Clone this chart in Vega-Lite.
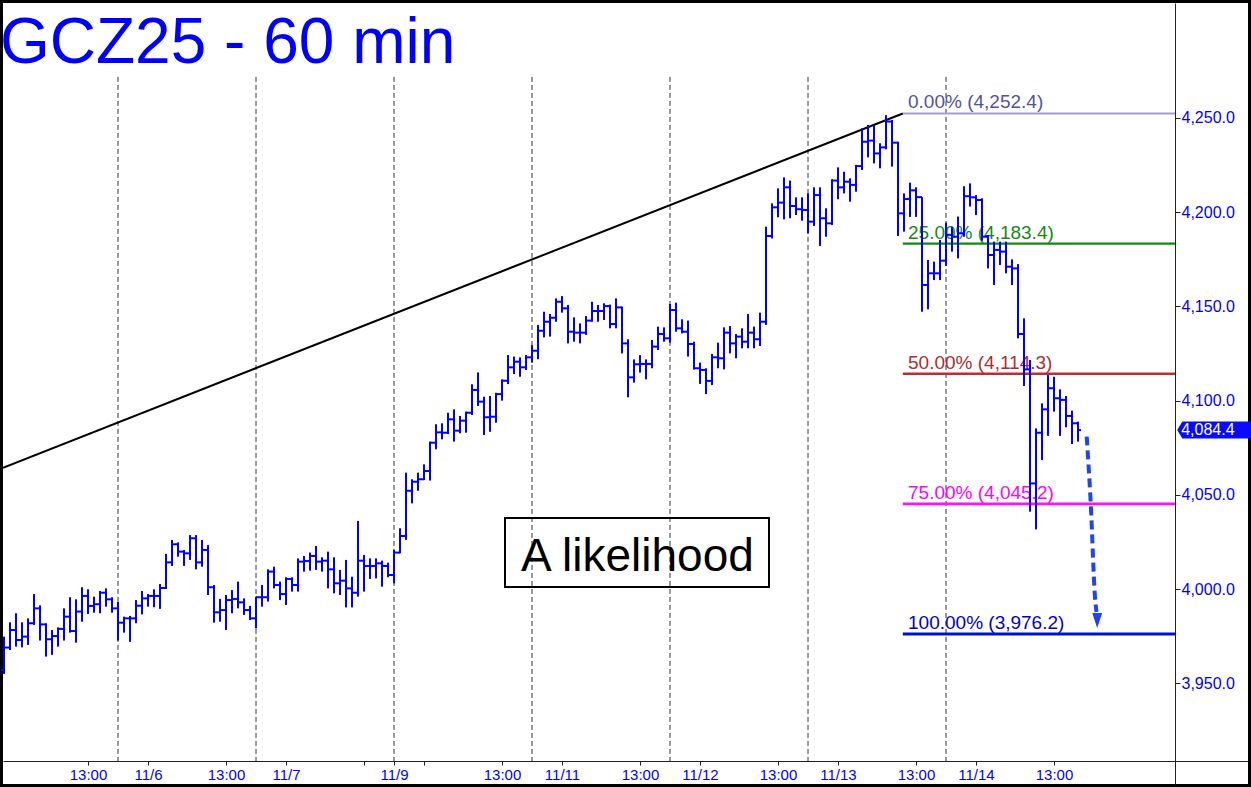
{
"$schema": "https://vega.github.io/schema/vega-lite/v6.json",
"width": 1245, "height": 781, "padding": 3, "autosize": {"type": "none"},
"background": "black",
"config": {"view": {"stroke": null, "fill": "white"}, "font": "Liberation Sans"},
"datasets": {
"bars": [
{"t":0,"o":3957.1,"h":3974.8,"l":3955.0,"c":3969.0},
{"t":1,"o":3969.0,"h":3982.4,"l":3967.7,"c":3978.3},
{"t":2,"o":3978.3,"h":3987.2,"l":3969.5,"c":3973.0},
{"t":3,"o":3973.0,"h":3982.4,"l":3969.1,"c":3974.8},
{"t":4,"o":3974.8,"h":3984.5,"l":3970.4,"c":3981.9},
{"t":5,"o":3981.9,"h":3997.4,"l":3981.0,"c":3989.8},
{"t":6,"o":3989.8,"h":3991.4,"l":3972.7,"c":3981.3},
{"t":7,"o":3981.3,"h":3981.9,"l":3964.2,"c":3973.4},
{"t":8,"o":3973.4,"h":3978.3,"l":3965.1,"c":3975.1},
{"t":9,"o":3975.1,"h":3979.7,"l":3969.5,"c":3978.9},
{"t":10,"o":3978.9,"h":3989.8,"l":3972.7,"c":3985.4},
{"t":11,"o":3985.4,"h":3995.7,"l":3976.9,"c":3977.8},
{"t":12,"o":3977.8,"h":3994.6,"l":3971.6,"c":3988.1},
{"t":13,"o":3988.1,"h":4001.0,"l":3982.7,"c":3996.4},
{"t":14,"o":3996.4,"h":3999.9,"l":3986.8,"c":3991.1},
{"t":15,"o":3991.1,"h":3996.0,"l":3987.5,"c":3992.0},
{"t":16,"o":3992.0,"h":3999.0,"l":3987.2,"c":3998.1},
{"t":17,"o":3998.1,"h":4000.4,"l":3990.7,"c":3994.6},
{"t":18,"o":3994.6,"h":3995.7,"l":3987.5,"c":3989.8},
{"t":19,"o":3989.8,"h":3993.2,"l":3972.7,"c":3982.2},
{"t":20,"o":3982.2,"h":3985.4,"l":3976.9,"c":3984.5},
{"t":21,"o":3984.5,"h":3985.8,"l":3972.0,"c":3984.5},
{"t":22,"o":3984.5,"h":3994.2,"l":3981.9,"c":3991.2},
{"t":23,"o":3991.2,"h":3999.0,"l":3986.6,"c":3995.1},
{"t":24,"o":3995.1,"h":3997.4,"l":3990.7,"c":3996.4},
{"t":25,"o":3996.4,"h":3999.9,"l":3990.4,"c":3996.4},
{"t":26,"o":3996.4,"h":4002.7,"l":3989.5,"c":4000.6},
{"t":27,"o":4000.6,"h":4018.7,"l":4000.1,"c":4014.2},
{"t":28,"o":4014.2,"h":4026.1,"l":4012.3,"c":4023.8},
{"t":29,"o":4023.8,"h":4024.8,"l":4017.2,"c":4019.9},
{"t":30,"o":4019.9,"h":4020.8,"l":4012.3,"c":4019.0},
{"t":31,"o":4019.0,"h":4028.7,"l":4015.5,"c":4027.0},
{"t":32,"o":4027.0,"h":4028.7,"l":4010.5,"c":4014.2},
{"t":33,"o":4014.2,"h":4026.1,"l":4011.9,"c":4020.8},
{"t":34,"o":4020.8,"h":4023.4,"l":3996.9,"c":4001.0},
{"t":35,"o":4001.0,"h":4002.2,"l":3982.2,"c":3987.7},
{"t":36,"o":3987.7,"h":3994.8,"l":3982.7,"c":3988.9},
{"t":37,"o":3988.9,"h":3996.9,"l":3978.3,"c":3994.2},
{"t":38,"o":3994.2,"h":3999.5,"l":3987.2,"c":3994.8},
{"t":39,"o":3994.8,"h":4004.0,"l":3989.8,"c":3993.0},
{"t":40,"o":3993.0,"h":3995.1,"l":3986.3,"c":3988.9},
{"t":41,"o":3988.9,"h":3991.1,"l":3983.6,"c":3984.5},
{"t":42,"o":3984.5,"h":3996.0,"l":3979.2,"c":3995.7},
{"t":43,"o":3995.7,"h":4002.2,"l":3990.7,"c":3995.7},
{"t":44,"o":3995.7,"h":4010.5,"l":3993.4,"c":4009.3},
{"t":45,"o":4009.3,"h":4011.9,"l":4000.4,"c":4002.2},
{"t":46,"o":4002.2,"h":4004.0,"l":3994.2,"c":3997.4},
{"t":47,"o":3997.4,"h":4006.3,"l":3991.6,"c":4005.4},
{"t":48,"o":4005.4,"h":4006.3,"l":3998.7,"c":4002.2},
{"t":49,"o":4002.2,"h":4016.3,"l":3998.7,"c":4014.6},
{"t":50,"o":4014.6,"h":4017.6,"l":4009.3,"c":4014.9},
{"t":51,"o":4014.9,"h":4019.4,"l":4009.8,"c":4017.6},
{"t":52,"o":4017.6,"h":4022.9,"l":4010.2,"c":4014.6},
{"t":53,"o":4014.6,"h":4016.9,"l":4009.3,"c":4015.1},
{"t":54,"o":4015.1,"h":4019.9,"l":4000.4,"c":4010.5},
{"t":55,"o":4010.5,"h":4016.9,"l":3997.8,"c":4003.1},
{"t":56,"o":4003.1,"h":4010.2,"l":3996.9,"c":4004.5},
{"t":57,"o":4004.5,"h":4015.5,"l":3990.3,"c":4000.4},
{"t":58,"o":4000.4,"h":4006.6,"l":3990.3,"c":3998.1},
{"t":59,"o":3998.1,"h":4036.2,"l":3996.0,"c":4015.1},
{"t":60,"o":4015.1,"h":4018.1,"l":3998.7,"c":4012.3},
{"t":61,"o":4012.3,"h":4016.3,"l":4005.4,"c":4012.3},
{"t":62,"o":4012.3,"h":4016.3,"l":4005.7,"c":4013.7},
{"t":63,"o":4013.7,"h":4015.1,"l":4001.3,"c":4012.3},
{"t":64,"o":4012.3,"h":4014.0,"l":4006.3,"c":4007.5},
{"t":65,"o":4007.5,"h":4020.8,"l":4003.1,"c":4019.4},
{"t":66,"o":4019.4,"h":4032.3,"l":4019.0,"c":4028.2},
{"t":67,"o":4028.2,"h":4061.8,"l":4026.1,"c":4052.2},
{"t":68,"o":4052.2,"h":4058.3,"l":4045.5,"c":4057.0},
{"t":69,"o":4057.0,"h":4061.8,"l":4052.2,"c":4058.3},
{"t":70,"o":4058.3,"h":4066.2,"l":4057.9,"c":4062.7},
{"t":71,"o":4062.7,"h":4078.3,"l":4057.6,"c":4077.7},
{"t":72,"o":4077.7,"h":4087.5,"l":4074.2,"c":4083.2},
{"t":73,"o":4083.2,"h":4088.0,"l":4079.5,"c":4083.0},
{"t":74,"o":4083.0,"h":4093.6,"l":4082.3,"c":4090.1},
{"t":75,"o":4090.1,"h":4095.4,"l":4078.3,"c":4084.1},
{"t":76,"o":4084.1,"h":4091.9,"l":4082.7,"c":4089.4},
{"t":77,"o":4089.4,"h":4094.2,"l":4083.0,"c":4093.6},
{"t":78,"o":4093.6,"h":4108.7,"l":4092.4,"c":4105.7},
{"t":79,"o":4105.7,"h":4115.0,"l":4097.2,"c":4099.5},
{"t":80,"o":4099.5,"h":4102.1,"l":4081.8,"c":4091.2},
{"t":81,"o":4091.2,"h":4102.5,"l":4083.5,"c":4091.5},
{"t":82,"o":4091.5,"h":4104.2,"l":4088.3,"c":4103.5},
{"t":83,"o":4103.5,"h":4111.3,"l":4100.0,"c":4110.6},
{"t":84,"o":4110.6,"h":4124.2,"l":4108.8,"c":4117.7},
{"t":85,"o":4117.7,"h":4123.4,"l":4114.1,"c":4120.7},
{"t":86,"o":4120.7,"h":4123.0,"l":4112.7,"c":4117.7},
{"t":87,"o":4117.7,"h":4124.2,"l":4116.3,"c":4123.0},
{"t":88,"o":4123.0,"h":4129.5,"l":4120.2,"c":4126.5},
{"t":89,"o":4126.5,"h":4140.2,"l":4122.0,"c":4137.1},
{"t":90,"o":4137.1,"h":4147.2,"l":4133.6,"c":4141.9},
{"t":91,"o":4141.9,"h":4146.0,"l":4134.0,"c":4144.0},
{"t":92,"o":4144.0,"h":4154.3,"l":4141.9,"c":4152.5},
{"t":93,"o":4152.5,"h":4155.5,"l":4146.7,"c":4149.0},
{"t":94,"o":4149.0,"h":4150.8,"l":4130.4,"c":4136.6},
{"t":95,"o":4136.6,"h":4144.2,"l":4131.3,"c":4136.1},
{"t":96,"o":4136.1,"h":4141.0,"l":4130.4,"c":4136.1},
{"t":97,"o":4136.1,"h":4144.9,"l":4134.9,"c":4142.5},
{"t":98,"o":4142.5,"h":4152.5,"l":4141.9,"c":4147.6},
{"t":99,"o":4147.6,"h":4150.8,"l":4141.9,"c":4147.6},
{"t":100,"o":4147.6,"h":4151.7,"l":4142.8,"c":4150.2},
{"t":101,"o":4150.2,"h":4151.0,"l":4138.4,"c":4140.7},
{"t":102,"o":4140.7,"h":4154.3,"l":4138.4,"c":4149.5},
{"t":103,"o":4149.5,"h":4149.9,"l":4125.1,"c":4130.4},
{"t":104,"o":4130.4,"h":4132.6,"l":4101.8,"c":4112.4},
{"t":105,"o":4112.4,"h":4121.9,"l":4109.6,"c":4119.3},
{"t":106,"o":4119.3,"h":4124.2,"l":4114.9,"c":4119.5},
{"t":107,"o":4119.5,"h":4121.9,"l":4111.3,"c":4119.5},
{"t":108,"o":4119.5,"h":4132.2,"l":4117.2,"c":4128.7},
{"t":109,"o":4128.7,"h":4139.3,"l":4126.9,"c":4135.4},
{"t":110,"o":4135.4,"h":4138.9,"l":4131.3,"c":4133.1},
{"t":111,"o":4133.1,"h":4151.3,"l":4130.8,"c":4148.1},
{"t":112,"o":4148.1,"h":4152.0,"l":4136.6,"c":4138.4},
{"t":113,"o":4138.4,"h":4143.2,"l":4135.7,"c":4136.6},
{"t":114,"o":4136.6,"h":4142.5,"l":4123.4,"c":4130.1},
{"t":115,"o":4130.1,"h":4131.3,"l":4116.5,"c":4117.2},
{"t":116,"o":4117.2,"h":4120.2,"l":4108.9,"c":4116.3},
{"t":117,"o":4116.3,"h":4117.2,"l":4103.5,"c":4110.5},
{"t":118,"o":4110.5,"h":4124.8,"l":4108.3,"c":4123.0},
{"t":119,"o":4123.0,"h":4130.8,"l":4117.2,"c":4122.5},
{"t":120,"o":4122.5,"h":4138.9,"l":4116.6,"c":4136.1},
{"t":121,"o":4136.1,"h":4139.6,"l":4125.1,"c":4130.4},
{"t":122,"o":4130.4,"h":4135.4,"l":4122.5,"c":4134.0},
{"t":123,"o":4134.0,"h":4138.4,"l":4127.8,"c":4131.3},
{"t":124,"o":4131.3,"h":4146.0,"l":4127.8,"c":4136.1},
{"t":125,"o":4136.1,"h":4139.3,"l":4127.8,"c":4132.6},
{"t":126,"o":4132.6,"h":4146.7,"l":4129.0,"c":4141.9},
{"t":127,"o":4141.9,"h":4192.3,"l":4140.2,"c":4187.4},
{"t":128,"o":4187.4,"h":4204.7,"l":4186.1,"c":4202.6},
{"t":129,"o":4202.6,"h":4212.7,"l":4197.3,"c":4205.1},
{"t":130,"o":4205.1,"h":4218.5,"l":4196.2,"c":4213.2},
{"t":131,"o":4213.2,"h":4216.8,"l":4196.8,"c":4203.3},
{"t":132,"o":4203.3,"h":4207.9,"l":4198.5,"c":4201.6},
{"t":133,"o":4201.6,"h":4207.9,"l":4195.5,"c":4201.2},
{"t":134,"o":4201.2,"h":4210.0,"l":4188.8,"c":4195.0},
{"t":135,"o":4195.0,"h":4213.2,"l":4192.7,"c":4209.1},
{"t":136,"o":4209.1,"h":4213.2,"l":4182.1,"c":4196.8},
{"t":137,"o":4196.8,"h":4202.1,"l":4187.0,"c":4194.1},
{"t":138,"o":4194.1,"h":4217.5,"l":4193.2,"c":4216.8},
{"t":139,"o":4216.8,"h":4223.8,"l":4206.9,"c":4213.2},
{"t":140,"o":4213.2,"h":4221.5,"l":4210.0,"c":4216.2},
{"t":141,"o":4216.2,"h":4218.0,"l":4205.6,"c":4214.5},
{"t":142,"o":4214.5,"h":4225.1,"l":4210.9,"c":4224.5},
{"t":143,"o":4224.5,"h":4244.5,"l":4222.4,"c":4237.4},
{"t":144,"o":4237.4,"h":4246.3,"l":4229.1,"c":4238.0},
{"t":145,"o":4238.0,"h":4246.3,"l":4225.9,"c":4231.2},
{"t":146,"o":4231.2,"h":4236.6,"l":4223.3,"c":4234.4},
{"t":147,"o":4234.4,"h":4251.5,"l":4233.4,"c":4248.1},
{"t":148,"o":4248.1,"h":4249.0,"l":4224.2,"c":4236.9},
{"t":149,"o":4236.9,"h":4237.4,"l":4187.4,"c":4199.4},
{"t":150,"o":4199.4,"h":4210.0,"l":4189.7,"c":4207.0},
{"t":151,"o":4207.0,"h":4215.7,"l":4197.5,"c":4211.6},
{"t":152,"o":4211.6,"h":4213.2,"l":4197.5,"c":4208.0},
{"t":153,"o":4208.0,"h":4208.0,"l":4147.2,"c":4161.4},
{"t":154,"o":4161.4,"h":4174.7,"l":4148.5,"c":4167.6},
{"t":155,"o":4167.6,"h":4173.8,"l":4164.0,"c":4167.6},
{"t":156,"o":4167.6,"h":4185.3,"l":4164.0,"c":4174.3},
{"t":157,"o":4174.3,"h":4194.5,"l":4171.5,"c":4188.0},
{"t":158,"o":4188.0,"h":4192.3,"l":4179.1,"c":4187.0},
{"t":159,"o":4187.0,"h":4197.7,"l":4175.5,"c":4188.8},
{"t":160,"o":4188.8,"h":4213.8,"l":4187.0,"c":4208.5},
{"t":161,"o":4208.5,"h":4215.3,"l":4203.0,"c":4207.9},
{"t":162,"o":4207.9,"h":4209.1,"l":4198.5,"c":4206.5},
{"t":163,"o":4206.5,"h":4207.4,"l":4184.9,"c":4187.0},
{"t":164,"o":4187.0,"h":4187.9,"l":4170.2,"c":4177.3},
{"t":165,"o":4177.3,"h":4184.4,"l":4161.4,"c":4180.0},
{"t":166,"o":4180.0,"h":4184.4,"l":4172.0,"c":4179.1},
{"t":167,"o":4179.1,"h":4184.4,"l":4167.6,"c":4171.1},
{"t":168,"o":4171.1,"h":4175.0,"l":4161.4,"c":4170.2},
{"t":169,"o":4170.2,"h":4172.5,"l":4133.1,"c":4135.4},
{"t":170,"o":4135.4,"h":4143.7,"l":4107.8,"c":4116.6},
{"t":171,"o":4116.6,"h":4121.6,"l":4041.1,"c":4056.1},
{"t":172,"o":4056.1,"h":4085.3,"l":4031.7,"c":4083.0},
{"t":173,"o":4083.0,"h":4098.6,"l":4068.5,"c":4095.4},
{"t":174,"o":4095.4,"h":4113.6,"l":4081.3,"c":4106.6},
{"t":175,"o":4106.6,"h":4112.7,"l":4094.2,"c":4101.3},
{"t":176,"o":4101.3,"h":4106.0,"l":4081.3,"c":4100.4},
{"t":177,"o":4100.4,"h":4102.5,"l":4085.9,"c":4091.9},
{"t":178,"o":4091.9,"h":4094.7,"l":4077.0,"c":4088.0},
{"t":179,"o":4088.0,"h":4088.9,"l":4078.3,"c":4084.4}
],
"seps": [{"t":19},{"t":42},{"t":65},{"t":88},{"t":111},{"t":134},{"t":157}],
"fibs": [
{"lvl":"0","p":4252.4,"label":"0.00% (4,252.4)"},
{"lvl":"25","p":4183.4,"label":"25.00% (4,183.4)"},
{"lvl":"50","p":4114.3,"label":"50.00% (4,114.3)"},
{"lvl":"75","p":4045.2,"label":"75.00% (4,045.2)"},
{"lvl":"100","p":3976.2,"label":"100.00% (3,976.2)"}
],
"trend": [{"t":-0.1667,"p":4064.4},{"t":149.8,"p":4252.4}],
"arrow": [{"t":180.45,"p":4080.9},{"t":181.12,"p":4045.7},{"t":181.83,"p":3995.8},{"t":182.08,"p":3987.9}],
"head": [{"t":182.2,"p":3983.4}],
"box": [{"t":83.5,"t2":127.5,"p":4037.75,"p2":4001.1,"tc":105.58,"pc":4009.6,"label":"A likelihood"}],
"tag": [{"t":201.7,"tl":196.2,"p":4084.4,"label":"4,084.4"}],
"heading": [{"t":-0.1667,"p":4279.2,"label":"GCZ25 - 60 min"}]
},
"layer": [
{"data": {"name": "seps"}, "mark": {"type": "rule", "color": "#333333", "strokeWidth": 1, "strokeDash": [5, 3]},
 "encoding": {
  "x": {"field": "t", "type": "quantitative", "title": null, "scale": {"domain": [-0.1667, 207.3333], "nice": false, "zero": false},
   "axis": {"values": [14, 24, 37, 47, 60, 65, 70, 83, 93, 106, 116, 129, 139, 152, 162, 175],
    "labelExpr": "['13:00','11/6','13:00','11/7','','11/9','','13:00','11/11','13:00','11/12','13:00','11/13','13:00','11/14','13:00'][indexof([14,24,37,47,60,65,70,83,93,106,116,129,139,152,162,175], datum.value)]",
    "offset": -23, "grid": false, "domainColor": "#222222", "tickColor": "#222222", "tickSize": 4, "labelColor": "#0000FF", "labelFontSize": 15, "labelFont": "Liberation Sans", "labelPadding": 2, "labelOverlap": false, "labelBound": false, "labelFlush": false, "zindex": 1}},
  "y": {"datum": 4271.8, "type": "quantitative", "title": null, "scale": {"domain": [3896.6, 4311.02], "nice": false, "zero": false},
   "axis": {"orient": "right", "values": [3950, 4000, 4050, 4100, 4150, 4200, 4250], "format": ",.1f", "offset": -73, "grid": false, "domainColor": "#222222", "tickColor": "#222222", "tickSize": 5, "labelColor": "#0000FF", "labelFontSize": 16, "labelFont": "Liberation Sans", "labelPadding": 1, "labelOverlap": false, "labelBound": false, "zindex": 1}},
  "y2": {"datum": 3908.8}
 }},
{"data": {"name": "heading"}, "mark": {"type": "text", "align": "left", "baseline": "alphabetic", "fontSize": 64, "font": "Liberation Sans", "color": "#0000FF", "dx": -3},
 "encoding": {"x": {"field": "t", "type": "quantitative", "title": null}, "y": {"field": "p", "type": "quantitative", "title": null}, "text": {"field": "label"}}},
{"data": {"name": "fibs"}, "mark": {"type": "rule"},
 "encoding": {
  "x": {"datum": 149.8, "type": "quantitative", "title": null}, "x2": {"datum": 195.17},
  "y": {"field": "p", "type": "quantitative", "title": null},
  "color": {"field": "lvl", "type": "nominal", "legend": null, "scale": {"domain": ["0","25","50","75","100"], "range": ["#A39ECF","#0E8A0E","#B83030","#FF10FF","#0010D0"]}},
  "strokeWidth": {"field": "lvl", "type": "nominal", "legend": null, "scale": {"domain": ["0","25","50","75","100"], "range": [2, 3, 3, 3, 3]}}
 }},
{"data": {"name": "fibs"}, "mark": {"type": "text", "align": "left", "baseline": "alphabetic", "dy": -5, "fontSize": 19, "font": "Liberation Sans"},
 "encoding": {
  "x": {"datum": 150.67, "type": "quantitative", "title": null},
  "y": {"field": "p", "type": "quantitative", "title": null},
  "text": {"field": "label"},
  "color": {"field": "label", "type": "nominal", "legend": null, "scale": {"domain": ["0.00% (4,252.4)","25.00% (4,183.4)","50.00% (4,114.3)","75.00% (4,045.2)","100.00% (3,976.2)"], "range": ["#55529C","#168A16","#B02C2C","#FF00FF","#0000CC"]}}
 }},
{"data": {"name": "trend"}, "mark": {"type": "line", "color": "black", "strokeWidth": 2, "clip": true},
 "encoding": {"x": {"field": "t", "type": "quantitative", "title": null}, "y": {"field": "p", "type": "quantitative", "title": null}}},
{"data": {"name": "bars"}, "mark": {"type": "rule", "color": "#0000FF", "strokeWidth": 2},
 "encoding": {"x": {"field": "t", "type": "quantitative", "title": null}, "y": {"field": "h", "type": "quantitative", "title": null}, "y2": {"field": "l"}}},
{"data": {"name": "bars"}, "mark": {"type": "rule", "color": "#0000FF", "strokeWidth": 2, "xOffset": -3, "x2Offset": 0},
 "encoding": {"x": {"field": "t", "type": "quantitative", "title": null}, "x2": {"field": "t"}, "y": {"field": "o", "type": "quantitative", "title": null}}},
{"data": {"name": "bars"}, "mark": {"type": "rule", "color": "#0000FF", "strokeWidth": 2, "xOffset": 0, "x2Offset": 3},
 "encoding": {"x": {"field": "t", "type": "quantitative", "title": null}, "x2": {"field": "t"}, "y": {"field": "c", "type": "quantitative", "title": null}}},
{"data": {"name": "box"}, "mark": {"type": "rect", "fill": null, "fillOpacity": 0, "stroke": "black", "strokeWidth": 2},
 "encoding": {"x": {"field": "t", "type": "quantitative", "title": null}, "x2": {"field": "t2"}, "y": {"field": "p", "type": "quantitative", "title": null}, "y2": {"field": "p2"}}},
{"data": {"name": "box"}, "mark": {"type": "text", "align": "center", "baseline": "alphabetic", "fontSize": 46, "font": "Liberation Sans", "color": "black"},
 "encoding": {"x": {"field": "tc", "type": "quantitative", "title": null}, "y": {"field": "pc", "type": "quantitative", "title": null}, "text": {"field": "label"}}},
{"data": {"name": "arrow"}, "mark": {"type": "line", "color": "#1F45EE", "strokeWidth": 4, "strokeDash": [9, 5], "interpolate": "monotone"},
 "encoding": {"x": {"field": "t", "type": "quantitative", "title": null}, "y": {"field": "p", "type": "quantitative", "title": null}}},
{"data": {"name": "head"}, "mark": {"type": "point", "shape": "M -0.66 -1 L 0.66 -1 L 0 1 Z", "size": 225, "filled": true, "opacity": 1, "color": "#1F45EE", "strokeWidth": 0},
 "encoding": {"x": {"field": "t", "type": "quantitative", "title": null}, "y": {"field": "p", "type": "quantitative", "title": null}}},
{"data": {"name": "tag"}, "mark": {"type": "point", "shape": "M -1 0 L -0.86 -0.23 L 1 -0.23 L 1 0.23 L -0.86 0.23 Z", "size": 5476, "filled": true, "opacity": 1, "color": "#0A0AFF", "strokeWidth": 0, "clip": false},
 "encoding": {"x": {"field": "t", "type": "quantitative", "title": null}, "y": {"field": "p", "type": "quantitative", "title": null}}},
{"data": {"name": "tag"}, "mark": {"type": "text", "align": "left", "baseline": "middle", "fontSize": 16, "font": "Liberation Sans", "color": "white"},
 "encoding": {"x": {"field": "tl", "type": "quantitative", "title": null}, "y": {"field": "p", "type": "quantitative", "title": null}, "text": {"field": "label"}}}
],
"resolve": {"scale": {"color": "independent", "strokeWidth": "independent"}}
}
